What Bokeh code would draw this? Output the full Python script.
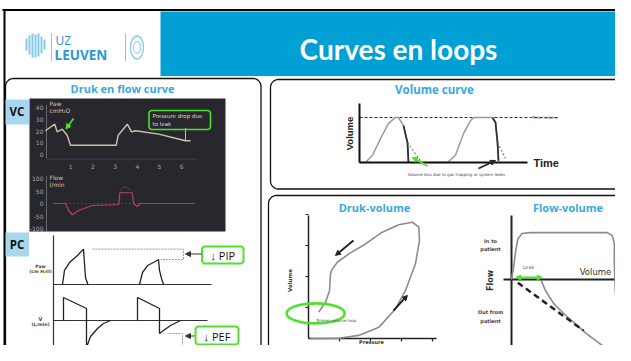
import numpy as np
from bokeh.plotting import figure
from bokeh.models import Range1d, Label, Arrow, NormalHead
from bokeh.embed import file_html
from bokeh.resources import INLINE

# ---------------- data ----------------
slide_title = "Curves en loops"
panel_titles = ["Druk en flow curve", "Volume curve", "Druk-volume", "Flow-volume"]
mode_labels = ["VC", "PC"]

# VC ventilator screen: pressure (cmH2O) and flow (l/min) against time (s)
vc_p_time = [-0.14, 0.28, 0.39, 0.62, 0.84, 0.99, 3.05, 3.14, 3.55, 3.74, 3.92, 4.97, 6.17, 6.40]
vc_p_val = [20.2, 25.8, 19.3, 21.5, 16.4, 7.9, 7.9, 16.4, 25.8, 19.3, 20.2, 17.3, 11.7, 11.7]
vc_leak_time = 6.17
vc_leak_p = [22.5, 11.7]
vc_f_time = [0.23, 0.77, 0.91, 1.07, 1.36, 1.97, 3.17, 3.21, 3.77, 3.84, 4.00, 4.14, 6.55]
vc_f_val = [0, 0, -28, -45, -28, -8, -4, 43, 43, 0, -12, 0, 0]
vc_f_ghost_time = [3.21, 3.35, 3.55, 3.70]
vc_f_ghost_val = [50, 64, 66, 52]
vc_p_ticks = [0, 10, 20, 30, 40]
vc_f_ticks = [100, 50, 0, -50, -100]
vc_t_ticks = [1, 2, 3, 4, 5, 6]

# PC schematic: pressure and flow against time
pc_p1_time = [0.45, 0.55, 0.8, 1.2, 1.5, 1.55, 1.6, 1.72]
pc_p1_val = [0, 11.7, 18.3, 24.2, 29.5, 17.5, 5.8, 0]
pc_p2_time = [4.3, 4.45, 4.7, 5.0, 5.25, 5.3, 5.4, 5.5]
pc_p2_val = [0, 10, 15.8, 18.3, 20.8, 11.7, 5.0, 0]
pc_f1_time = [0.5, 0.5, 1.65, 1.65, 1.85, 2.2, 2.5, 2.85]
pc_f1_val = [0, 57.5, 30, -67.5, -40, -20, -7.5, 0]
pc_f2_time = [4.2, 4.2, 5.3, 5.3, 5.5, 5.85, 6.35]
pc_f2_val = [0, 57.5, 30, -32.5, -25, -12.5, 0]
pc_t_end = 7.9

# Volume curve: volume (fraction of total) against time
vol1_time = [0.0, 0.3, 0.65, 1.05, 1.45, 1.8, 1.95, 2.2, 2.4, 2.45]
vol1_val = [0, 0, 0.16, 0.53, 0.87, 1.0, 1.0, 0.82, 0.44, 0]
vol2_time = [3.5, 4.4, 4.8, 5.2, 5.55, 5.7, 6.65, 6.8, 6.9, 6.95]
vol2_val = [0, 0, 0.16, 0.64, 0.93, 1.0, 1.0, 0.89, 0.44, 0.04]
vol_loss1_time = [2.4, 3.05]
vol_loss1_val = [0.44, 0.04]
vol_loss2_time = [6.9, 7.3]
vol_loss2_val = [0.44, 0.09]
vol_total = 1.0

# Pressure-volume loop (broken loop)
pv_pressure = [0.06, 0.44, 0.98, 1.62, 2.27, 2.81, 3.13, 3.45, 3.58, 3.56, 3.35, 2.91,
               2.38, 1.84, 1.30, 0.93, 0.76, 0.71, 0.68, 0.55, 0.33]
pv_volume = [0, 0, 0.01, 0.1, 0.36, 0.96, 1.55, 2.41, 3.16, 3.59, 3.75, 3.67,
             3.43, 3.05, 2.73, 2.46, 2.23, 2.09, 1.55, 1.17, 0.85]
pv_ticks = [1, 2, 3, 4]

# Flow-volume loop with leak
fv_volume = [0, 0.02, 0.04, 0.06, 0.10, 0.18, 0.90, 0.95, 0.97, 0.97, 0.98, 1.0, 1.0,
             0.98, 0.90, 0.71, 0.53, 0.40, 0.32, 0.28]
fv_flow = [0, 0.27, 0.63, 0.88, 1.0, 1.02, 1.02, 0.96, 0.78, 0.34, -0.24, -0.96, -1.47,
           -1.59, -1.51, -1.18, -0.82, -0.53, -0.24, -0.02]
fv_ideal_volume = [0.06, 0.68]
fv_ideal_flow = [-0.07, -1.11]
fv_leak_volume = [0.04, 0.29]

# ---------------- helpers ----------------
def mapper(x0, y0, sx, sy):
    return (lambda t: list(x0 + sx * np.asarray(t, dtype=float)),
            lambda v: list(y0 - sy * np.asarray(v, dtype=float)))

def rrect(x0, y0, x1, y1, r, n=10):
    xs, ys = [], []
    for cx, cy, a0, a1 in [(x1 - r, y0 + r, -np.pi / 2, 0), (x1 - r, y1 - r, 0, np.pi / 2),
                           (x0 + r, y1 - r, np.pi / 2, np.pi), (x0 + r, y0 + r, np.pi, 1.5 * np.pi)]:
        a = np.linspace(a0, a1, n)
        xs += list(cx + r * np.cos(a))
        ys += list(cy + r * np.sin(a))
    return xs + [xs[0]], ys + [ys[0]]

p = figure(width=615, height=345, x_range=Range1d(0, 615), y_range=Range1d(345, 0),
           output_backend="svg", toolbar_location=None, min_border=0)
p.xaxis.visible = False
p.yaxis.visible = False
p.xgrid.visible = False
p.ygrid.visible = False
p.outline_line_color = None
p.background_fill_color = "white"

def txt(x, y, s, size, color="#000000", bold=False, align="center", font="Open Sans",
        angle=0.0, baseline="middle"):
    p.add_layout(Label(x=x, y=y, text=s, text_font=font, text_font_size=f"{size}px",
                       text_font_style="bold" if bold else "normal", text_color=color,
                       text_align=align, text_baseline=baseline, angle=angle))

def arrow(x0, y0, x1, y1, color, width=1.5, size=6):
    p.add_layout(Arrow(x_start=x0, y_start=y0, x_end=x1, y_end=y1, line_color=color,
                       line_width=width,
                       end=NormalHead(size=size, fill_color=color, line_color=color)))

BLUE = "#00a0d4"
TBLUE = "#36a9e1"
GREEN = "#4ee22a"
LBLUE = "#a9d6ef"

# ---------------- header ----------------
p.line([2, 640], [9.5, 9.5], line_color="black", line_width=2)
p.line([4, 4], [9, 361], line_color="black", line_width=2)
p.quad(left=160, right=640, top=11, bottom=75.5, fill_color=BLUE, line_color=None)
txt(398, 48, slide_title, 28, "white", True, font="Lato")

# logo
logo_x = [26, 29, 32, 35, 38, 41, 44]
logo_top = [38, 35, 33, 34, 33, 36, 39]
logo_bot = [50, 54, 57, 57, 56, 53, 49]
p.multi_line([[x, x] for x in logo_x], [[t, b] for t, b in zip(logo_top, logo_bot)],
             line_color="#86cbea", line_width=2)
p.line([51, 51], [33, 61], line_color="#86cbea", line_width=1)
p.line([125, 125], [33, 61], line_color="#86cbea", line_width=1)
p.ellipse(x=[136.5], y=[47], width=13, height=23, fill_color=None, line_color="#86cbea",
          line_width=1.3)
p.ellipse(x=[136.5], y=[47], width=7, height=12, fill_color=None, line_color="#9fd5ee",
          line_width=1.3)
txt(55, 40, "UZ", 12, "#2a98d4", False, "left", font="Open Sans")
txt(54, 54.5, "LEUVEN", 13.5, "#2a98d4", True, "left", font="Open Sans")

# ---------------- panels ----------------
for (x0, y0, x1, y1) in [(5, 78, 260.5, 358), (270, 79, 628, 188.5), (268, 195, 628, 358)]:
    xs, ys = rrect(x0, y0, x1, y1, 8)
    p.line(xs, ys, line_color="#111111", line_width=1.3)

txt(122, 88, panel_titles[0], 11, TBLUE, True)
txt(434, 88.5, panel_titles[1], 11.5, TBLUE, True)
txt(374, 206.5, panel_titles[2], 11, TBLUE, True)
txt(567.5, 206.5, panel_titles[3], 11, TBLUE, True)

# mode boxes
p.quad(left=5, right=28.5, top=99, bottom=124, fill_color=LBLUE, line_color=None)
p.quad(left=5, right=28.5, top=232, bottom=256, fill_color=LBLUE, line_color=None)
txt(16.5, 110.5, mode_labels[0], 11.5, "#111111", True)
txt(16.5, 243.5, mode_labels[1], 11.5, "#111111", True)

# ---------------- VC ventilator screen ----------------
p.quad(left=29, right=225, top=98, bottom=231, fill_color="#29272e", line_color=None)
tx, py = mapper(48, 154, 22.2, 1.175)
_, fy = mapper(48, 203, 22.2, 0.25)
p.line([46, 46], [py([42])[0], py([-3])[0]], line_color="#6a6870", line_width=1)
p.line([46, 46], [fy([110])[0], fy([-110])[0]], line_color="#6a6870", line_width=1)
p.line(tx([-0.1, 6.7]), py([-4, -4]), line_color="#55535a", line_width=1, line_dash="1 1")
p.line(tx([0.2, 6.6]), fy([0, 0]), line_color="#6e3346", line_width=1, line_dash="2 2")
for v in vc_p_ticks:
    txt(43, py([v])[0], str(v), 6, "#a8a6ad", align="right", font="DejaVu Sans")
for v in vc_f_ticks:
    txt(43, fy([v])[0], str(v), 6, "#a8a6ad", align="right", font="DejaVu Sans")
for t in vc_t_ticks:
    txt(tx([t])[0], 165.5, str(t), 6, "#a8a6ad", font="DejaVu Sans")
txt(49, 103, "Paw", 6, "#c9c7cc", align="left", font="DejaVu Sans")
txt(49, 110, "cmH₂O", 6, "#c9c7cc", align="left", font="DejaVu Sans")
txt(49, 177, "Flow", 6, "#c9c7cc", align="left", font="DejaVu Sans")
txt(49, 184, "l/min", 6, "#c9c7cc", align="left", font="DejaVu Sans")
p.line(tx(vc_p_time), py(vc_p_val), line_color="#c9c5a9", line_width=1.4)
p.line(tx([vc_leak_time, vc_leak_time]), py(vc_leak_p), line_color="#c9c5a9", line_width=1)
p.line(tx(vc_f_time), fy(vc_f_val), line_color="#b8405e", line_width=1.2)
p.line(tx(vc_f_ghost_time), fy(vc_f_ghost_val), line_color="#6e3346", line_width=1)
arrow(73, 118, 65.5, 128.5, GREEN, 1.6, 5)
bx, by = rrect(148.5, 110, 210, 129, 3)
p.line(bx, by, line_color=GREEN, line_width=1.6)
txt(152, 115.5, "Pressure drop due", 5.5, "#d8d6da", align="left", font="DejaVu Sans")
txt(152, 123, "to leak", 5.5, "#d8d6da", align="left", font="DejaVu Sans")

# ---------------- PC schematic ----------------
cx, cpy = mapper(53, 284, 20, 1.2)
_, cfy = mapper(53, 320, 20, 0.4)
p.line([53, 53], [235, 360], line_color="#333333", line_width=1.2)
p.line(cx([0, pc_t_end]), cpy([0, 0]), line_color="#333333", line_width=1.2)
p.line(cx([0, pc_t_end - 0.2]), cfy([0, 0]), line_color="#333333", line_width=1.2)
pk1, pk2 = max(pc_p1_val), max(pc_p2_val)
p.line(cx([1.95, 6.5, 6.5, 5.35]), cpy([pk1, pk1, pk2, pk2]), line_color="#9a9a9a",
       line_width=1, line_dash="2 1")
mn1, mn2 = min(pc_f1_val), min(pc_f2_val)
p.line(cx([2.0, 6.45, 6.45, 5.7]), cfy([mn1, mn1, mn2, mn2]), line_color="#9a9a9a",
       line_width=1, line_dash="2 1")
p.line(cx(pc_p1_time), cpy(pc_p1_val), line_color="#222222", line_width=1.3)
p.line(cx(pc_p2_time), cpy(pc_p2_val), line_color="#222222", line_width=1.3)
p.line(cx(pc_f1_time), cfy(pc_f1_val), line_color="#222222", line_width=1.3)
p.line(cx(pc_f2_time), cfy(pc_f2_val), line_color="#222222", line_width=1.3)
txt(40, 265.5, "Paw", 4.5, "#444444", True, font="DejaVu Sans")
txt(40, 271, "(cm H₂O)", 4.5, "#444444", True, font="DejaVu Sans")
txt(40, 318, "V̇", 5, "#444444", True, font="DejaVu Sans")
txt(40, 324, "(L/min)", 4.5, "#444444", True, font="DejaVu Sans")
arrow(201, 253.5, 185, 253.5, "#333333", 1, 5)
arrow(194, 335.5, 185, 335.5, "#333333", 1, 5)
for (x0, y0, x1, y1, s) in [(201.5, 246, 243, 263, "↓ PIP"), (195, 326, 238, 344, "↓ PEF")]:
    bx, by = rrect(x0, y0, x1, y1, 3)
    p.line(bx, by, line_color=GREEN, line_width=2)
    txt((x0 + x1) / 2, (y0 + y1) / 2 + 0.5, s, 11, "#111111", font="Open Sans")

# ---------------- Volume curve ----------------
vx, vy = mapper(359, 162, 20, 45)
p.line(vx([0, 10]), vy([vol_total, vol_total]), line_color="#333333", line_width=1,
       line_dash="3 2")
p.line(vx(vol1_time), vy(vol1_val), line_color="#9a9a9a", line_width=1.5)
p.line(vx(vol2_time), vy(vol2_val), line_color="#9a9a9a", line_width=1.5)
p.line(vx(vol1_time[-3:]), vy(vol1_val[-3:]), line_color="#333333", line_width=1.8)
p.line(vx(vol2_time[-4:]), vy(vol2_val[-4:]), line_color="#333333", line_width=1.8)
p.line(vx(vol_loss1_time), vy(vol_loss1_val), line_color="#555555", line_width=1,
       line_dash="2 2")
p.line(vx(vol_loss2_time), vy(vol_loss2_val), line_color="#555555", line_width=1,
       line_dash="2 2")
p.line([359, 359], [103, 162], line_color="#111111", line_width=2)
p.line([359, 527], [162, 162], line_color="#111111", line_width=2)
txt(533, 162.5, "Time", 11, "#222222", True, "left", font="Liberation Sans")
txt(349, 133, "Volume", 9.5, "#222222", True, font="Liberation Sans", angle=np.pi / 2)
txt(532, 116.5, "Total volume", 4, "#555555", align="left", font="DejaVu Sans")
arrow(427, 165.5, 412, 157, GREEN, 2, 5)
arrow(478, 168, 495, 160, "#222222", 1.5, 5)
txt(456, 173.5, "Volume loss due to gas trapping or system leaks", 4, "#444444",
    font="DejaVu Sans")

# ---------------- Pressure-volume loop ----------------
dx, dy = mapper(308, 338, 31, 31)
p.line([308, 308], [215, 338], line_color="#222222", line_width=1.5)
p.line([308, 436], [338, 338], line_color="#222222", line_width=1.5)
for t in pv_ticks:
    p.line([dx([t])[0]] * 2, [338, 341], line_color="#222222", line_width=1.2)
    p.line([305, 308], [dy([t])[0]] * 2, line_color="#222222", line_width=1.2)
p.line(dx(pv_pressure), dy(pv_volume), line_color="#8c8c8c", line_width=1.6)
arrow(dx([1.45])[0], dy([3.16])[0], dx([0.87])[0], dy([2.68])[0], "#222222", 2, 5)
arrow(dx([2.74])[0], dy([0.9])[0], dx([3.19])[0], dy([1.39])[0], "#222222", 2, 5)
p.ellipse(x=dx([0.23]), y=dy([0.81]), width=58, height=20, width_units="screen",
          height_units="screen", fill_color=None, line_color=GREEN, line_width=2.6)
txt(316, 319.5, "Broken volume loop", 4, "#555555", align="left", font="DejaVu Sans")
txt(289.5, 280, "Volume", 5.5, "#333333", True, font="DejaVu Sans", angle=np.pi / 2)
txt(371, 344.5, "Pressure", 5, "#333333", True, font="DejaVu Sans", baseline="bottom")

# ---------------- Flow-volume loop ----------------
fx, fy2 = mapper(511, 279, 106, 46)
p.line([511, 511], [215, 358], line_color="#222222", line_width=2)
p.line([503, 623], [279, 279], line_color="#222222", line_width=2)
p.line(fx(fv_volume), fy2(fv_flow), line_color="#8c8c8c", line_width=1.6)
p.line(fx(fv_ideal_volume), fy2(fv_ideal_flow), line_color="#222222", line_width=2.5,
       line_dash="6 4")
p.add_layout(Arrow(x_start=fx([fv_leak_volume[0]])[0], y_start=277,
                   x_end=fx([fv_leak_volume[1]])[0], y_end=277, line_color=GREEN,
                   line_width=2,
                   start=NormalHead(size=5, fill_color=GREEN, line_color=GREEN),
                   end=NormalHead(size=5, fill_color=GREEN, line_color=GREEN)))
txt(528, 266.5, "Leak", 5, "#666666", font="DejaVu Sans")
txt(595, 271.5, "Volume", 8.5, "#333333", font="DejaVu Sans")
txt(490, 280, "Flow", 8, "#333333", True, font="DejaVu Sans", angle=np.pi / 2)
txt(490, 240, "In to", 5, "#444444", True, font="DejaVu Sans")
txt(490, 248.5, "patient", 5, "#444444", True, font="DejaVu Sans")
txt(490, 311.5, "Out from", 5, "#444444", True, font="DejaVu Sans")
txt(490, 320, "patient", 5, "#444444", True, font="DejaVu Sans")

open("out.html", "w").write(file_html(p, INLINE))
